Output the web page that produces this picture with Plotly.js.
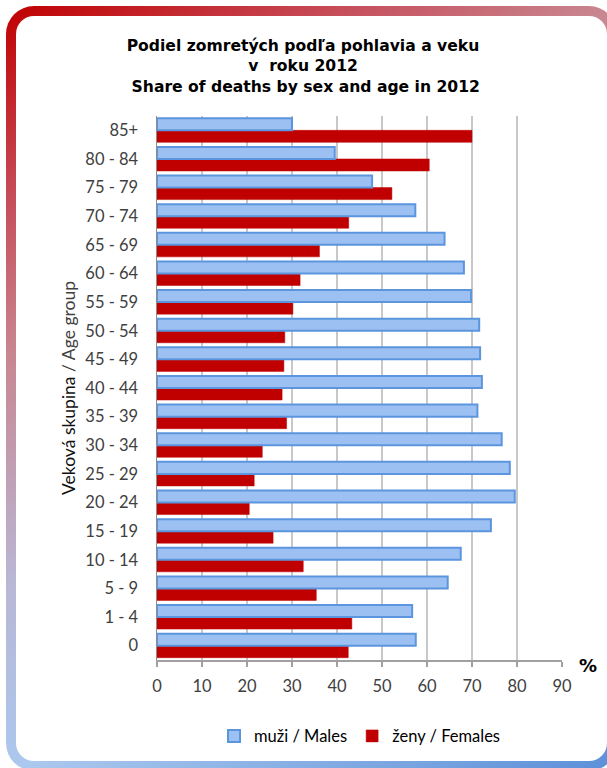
<!DOCTYPE html>
<html>
<head>
<meta charset="utf-8">
<script src="https://cdn.plot.ly/plotly-3.0.1.min.js"></script>
<style>
  html, body { margin: 0; padding: 0; width: 607px; height: 768px; overflow: hidden; background: #ffffff; }
  #frame { position: absolute; left: 6px; top: 6px; width: 611px; height: 765px; border-radius: 28px;
    background: linear-gradient(150deg, #C00000 0%, #C64F5C 18%, #C8858F 31%, #B9B7D6 52%, #ABC8EE 69%, #5B8FD8 100%); }
  #inner { position: absolute; left: 10px; top: 10px; right: 10px; bottom: 10px; border-radius: 18px; background: #ffffff; }
  #chart { position: absolute; left: 0; top: 0; width: 607px; height: 768px; }
</style>
</head>
<body>
<div id="frame"><div id="inner"></div></div>
<div id="chart"></div>
<script>
const ageGroups = ['0','1 - 4','5 - 9','10 - 14','15 - 19','20 - 24','25 - 29','30 - 34','35 - 39','40 - 44','45 - 49','50 - 54','55 - 59','60 - 64','65 - 69','70 - 74','75 - 79','80 - 84','85+'];
const males = [57.5,56.7,64.6,67.5,74.2,79.5,78.4,76.6,71.2,72.2,71.8,71.6,69.8,68.2,63.9,57.4,47.8,39.5,30.0];
const females = [42.5,43.3,35.4,32.5,25.8,20.5,21.6,23.4,28.8,27.8,28.2,28.4,30.2,31.8,36.1,42.6,52.2,60.5,70.0];
const xTicks = [0,10,20,30,40,50,60,70,80,90];
const seriesNames = ['muži / Males', 'ženy / Females'];

const traces = [
  { type: 'bar', orientation: 'h', name: seriesNames[1], y: ageGroups, x: females,
    marker: { color: '#C00000', line: { color: '#C00000', width: 0.5 } }, hoverinfo: 'x+y' },
  { type: 'bar', orientation: 'h', name: seriesNames[0], y: ageGroups, x: males,
    marker: { color: '#9CC0F2', line: { color: '#5B95DE', width: 2 } }, hoverinfo: 'x+y' }
];

const layout = {
  width: 607, height: 768,
  paper_bgcolor: 'rgba(0,0,0,0)', plot_bgcolor: 'rgba(0,0,0,0)',
  margin: { l: 157, r: 45, t: 116, b: 107.5 },
  font: { family: 'Lato, "Open Sans", sans-serif', color: '#404040', size: 15 },
  title: {
    text: 'Podiel zomretých podľa pohlavia a veku<br>v  roku 2012<br> Share of deaths by sex and age in 2012',
    font: { family: '"DejaVu Sans", Verdana, sans-serif', size: 15.6, color: '#000000', weight: 'bold' },
    x: 303 / 607, xref: 'container', xanchor: 'center',
    yref: 'container', y: 1 - 51 / 768, yanchor: 'top'
  },
  barmode: 'group', bargap: 0.16, bargroupgap: 0,
  xaxis: {
    range: [0, 90], tickvals: xTicks, ticktext: xTicks.map(String),
    showgrid: true, gridcolor: '#C8C8C8', gridwidth: 1.5,
    showline: true, linecolor: '#A0A0A0', linewidth: 1.5,
    ticks: 'outside', ticklen: 5, tickcolor: '#A0A0A0', tickwidth: 1.5,
    ticklabelstandoff: 6,
    tickfont: { size: 16.5, color: '#404040' }, zeroline: false, fixedrange: true
  },
  yaxis: {
    type: 'category', categoryorder: 'array', categoryarray: ageGroups,
    showgrid: false, showline: true, linecolor: '#8C8C8C', linewidth: 1.5,
    ticks: '', ticklabelstandoff: 14,
    tickfont: { size: 16.5, color: '#404040' },
    title: { text: '<span style="color:#111">Veková skupina</span> / Age group', standoff: 5,
      font: { size: 17.5, color: '#404040' } },
    fixedrange: true
  },
  legend: {
    orientation: 'h', traceorder: 'reversed', x: 0.5, xanchor: 'center', y: -0.14, yanchor: 'middle',
    font: { size: 16.5, color: '#000000' }, itemwidth: 30, bgcolor: 'rgba(0,0,0,0)'
  },
  annotations: [
    { text: '<b>%</b>', xref: 'paper', yref: 'paper', x: (588 - 157) / 405, y: (660.5 - 666) / 544.5,
      xanchor: 'center', yanchor: 'middle', showarrow: false,
      font: { family: '"DejaVu Sans", Verdana, sans-serif', size: 18, color: '#000000' } }
  ],
  showlegend: true
};

Plotly.newPlot('chart', traces, layout, { displayModeBar: false, staticPlot: true });
</script>
</body>
</html>
